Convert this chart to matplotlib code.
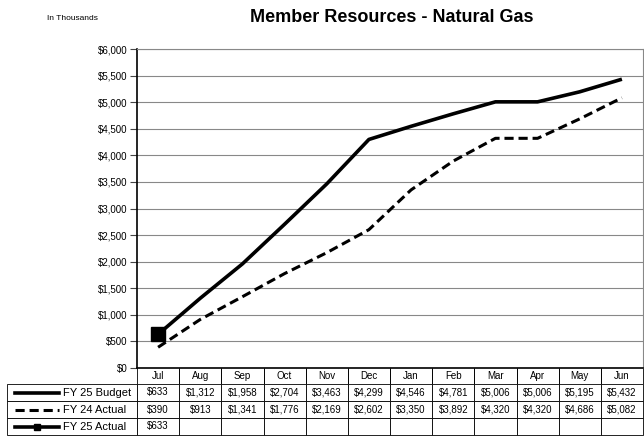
import matplotlib.pyplot as plt
from matplotlib.lines import Line2D

months = ['Jul', 'Aug', 'Sep', 'Oct', 'Nov', 'Dec', 'Jan', 'Feb', 'Mar', 'Apr', 'May', 'Jun']
fy25_budget = [633, 1312, 1958, 2704, 3463, 4299, 4546, 4781, 5006, 5006, 5195, 5432]
fy24_actual = [390, 913, 1341, 1776, 2169, 2602, 3350, 3892, 4320, 4320, 4686, 5082]
fy25_actual = [633]
series_names = ['FY 25 Budget', 'FY 24 Actual', 'FY 25 Actual']

plt.rcParams['font.family'] = ['Liberation Sans', 'DejaVu Sans']
narrow = ['Liberation Sans Narrow', 'Liberation Sans', 'DejaVu Sans']

W, H = 644, 440
fig = plt.figure(figsize=(W / 100, H / 100), dpi=100)
x0, x1, y0, y1 = 137, 643, 368, 49
ax = fig.add_axes([x0 / W, 1 - y0 / H, (x1 - x0) / W, (y0 - y1) / H])

xs = list(range(len(months)))
ax.plot(xs, fy25_budget, color='black', lw=2.6, solid_capstyle='butt')
ax.plot(xs, fy24_actual, color='black', lw=2.2, ls=(0, (3, 1.6)))
ax.plot(xs[:len(fy25_actual)], fy25_actual, color='black', lw=2.6,
        marker='s', ms=10, zorder=5)

ax.set_xlim(-0.5, len(months) - 0.5)
ax.set_ylim(0, 6000)
ax.set_yticks(range(0, 6001, 500))
ax.set_yticklabels(['${:,}'.format(v) for v in range(0, 6001, 500)], fontsize=7)
ax.yaxis.grid(True, color='#888888', lw=0.8)
ax.set_axisbelow(True)
ax.set_xticks([])
ax.tick_params(axis='y', length=5, width=0.8, color='#444444', pad=2)
for side in ['top', 'right']:
    ax.spines[side].set_color('#888888')
    ax.spines[side].set_linewidth(0.8)
ax.spines['left'].set_linewidth(1.2)
ax.spines['bottom'].set_linewidth(1.2)

# data table below the plot
plot_w = x1 - x0
plot_h = y0 - y1
label_w = x0 - 7
col_w = plot_w / len(months)
rows = [fy25_budget, fy24_actual, fy25_actual]
cell_text = [[''] + months]
for r in rows:
    cell_text.append([''] + ['${:,}'.format(v) for v in r] + [''] * (len(months) - len(r)))
tab_bottom = 435
tbl = ax.table(cellText=cell_text,
               colWidths=[label_w / plot_w] + [col_w / plot_w] * len(months),
               bbox=[-label_w / plot_w, -(tab_bottom - y0) / plot_h,
                     (plot_w + label_w) / plot_w, (tab_bottom - y0) / plot_h],
               cellLoc='center')
tbl.auto_set_font_size(False)
row_h = [16, 17, 17, 17]
for (r, c), cell in tbl.get_celld().items():
    cell.set_linewidth(0.6)
    cell.set_height(row_h[r] / plot_h)
    cell.get_text().set_fontsize(7)
    cell.get_text().set_family(narrow)
    if r == 0:
        cell.visible_edges = 'LR' if c > 0 else ''

# legend keys in the label column
key_styles = [dict(lw=2.6, ls='-'), dict(lw=2.2, ls=(0, (3, 1.6))),
              dict(lw=2.6, ls='-', marker='s', ms=4, markevery=[1])]
top = y0 + row_h[0]
for i, (name, st) in enumerate(zip(series_names, key_styles)):
    yc = top + sum(row_h[1:i + 1]) + row_h[i + 1] / 2
    fy = 1 - yc / H
    fig.add_artist(Line2D([15 / W, 37 / W, 59 / W], [fy, fy, fy], color='black',
                          transform=fig.transFigure, **st))
    fig.text(63 / W, fy, name, fontsize=8, va='center', ha='left', family=narrow)

fig.text(392 / W, 1 - 18 / H, 'Member Resources - Natural Gas', fontsize=13,
         fontweight='bold', ha='center', va='center')
fig.text(47 / W, 1 - 18 / H, 'In Thousands', fontsize=6, ha='left', va='center')

fig.savefig('out.png', dpi=100)
